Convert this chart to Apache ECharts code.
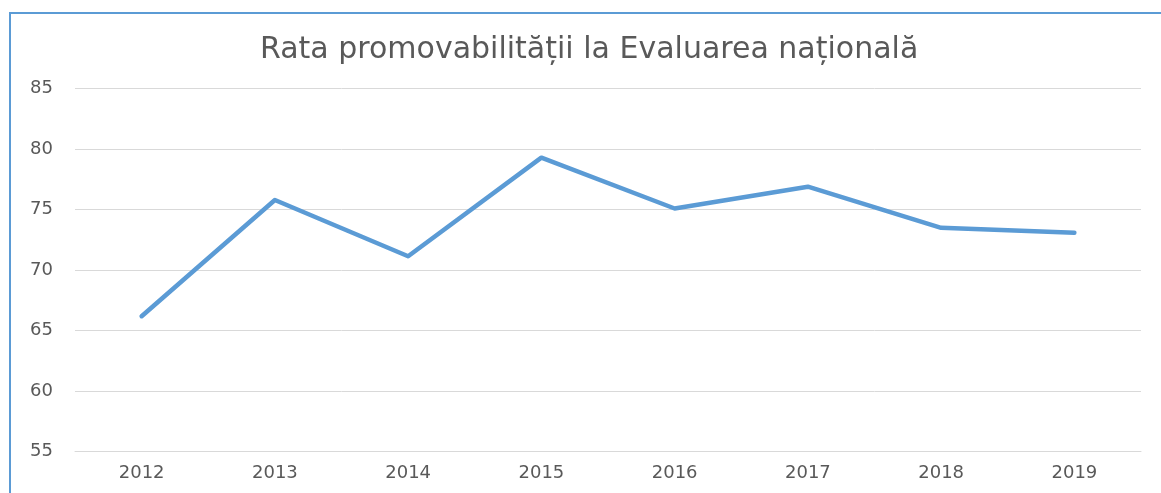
<!DOCTYPE html>
<html>
<head>
<meta charset="utf-8">
<script src="https://cdn.jsdelivr.net/npm/echarts@6/dist/echarts.min.js"></script>
<style>
  html, body { margin: 0; padding: 0; background: #fff; }
  #chart { width: 1161px; height: 493px; }
  .frame {
    position: absolute; left: 9px; top: 12px; right: 0; bottom: 0;
    border-left: 2px solid #5b9bd5; border-top: 2px solid #5b9bd5;
    pointer-events: none;
  }
</style>
</head>
<body>
<div id="chart"></div>
<div class="frame"></div>
<script>
// date
const years = ["2012", "2013", "2014", "2015", "2016", "2017", "2018", "2019"];
const rates = [66.2, 75.8, 71.15, 79.3, 75.1, 76.9, 73.5, 73.1];
const yTicks = { min: 55, max: 85, interval: 5 };

const chart = echarts.init(document.getElementById("chart"));

chart.setOption({
  animation: false,
  title: {
    text: "Rata promovabilității la Evaluarea națională",
    left: 255,
    top: 30,
    textStyle: {
      fontFamily: "DejaVu Sans",
      fontWeight: "normal",
      fontSize: 30,
      color: "#595959",
    },
  },
  grid: {
    left: 75,
    right: 20,
    top: 88.7,
    bottom: 41.3,
  },
  xAxis: {
    type: "category",
    data: years,
    boundaryGap: true,
    axisLine: { show: true, lineStyle: { color: "#d9d9d9", width: 1 } },
    axisTick: { show: false },
    axisLabel: {
      margin: 13,
      color: "#595959",
      fontFamily: "DejaVu Sans",
      fontSize: 18,
    },
  },
  yAxis: {
    type: "value",
    min: yTicks.min,
    max: yTicks.max,
    interval: yTicks.interval,
    axisLine: { show: false },
    axisTick: { show: false },
    axisLabel: {
      margin: 22,
      color: "#595959",
      fontFamily: "DejaVu Sans",
      fontSize: 18,
    },
    splitLine: { lineStyle: { color: "#d9d9d9", width: 1 } },
  },
  series: [
    {
      name: "Rata",
      type: "line",
      data: rates,
      symbol: "none",
      lineStyle: { color: "#5b9bd5", width: 4.5, cap: "round", join: "round" },
    },
  ],
});
</script>
</body>
</html>
